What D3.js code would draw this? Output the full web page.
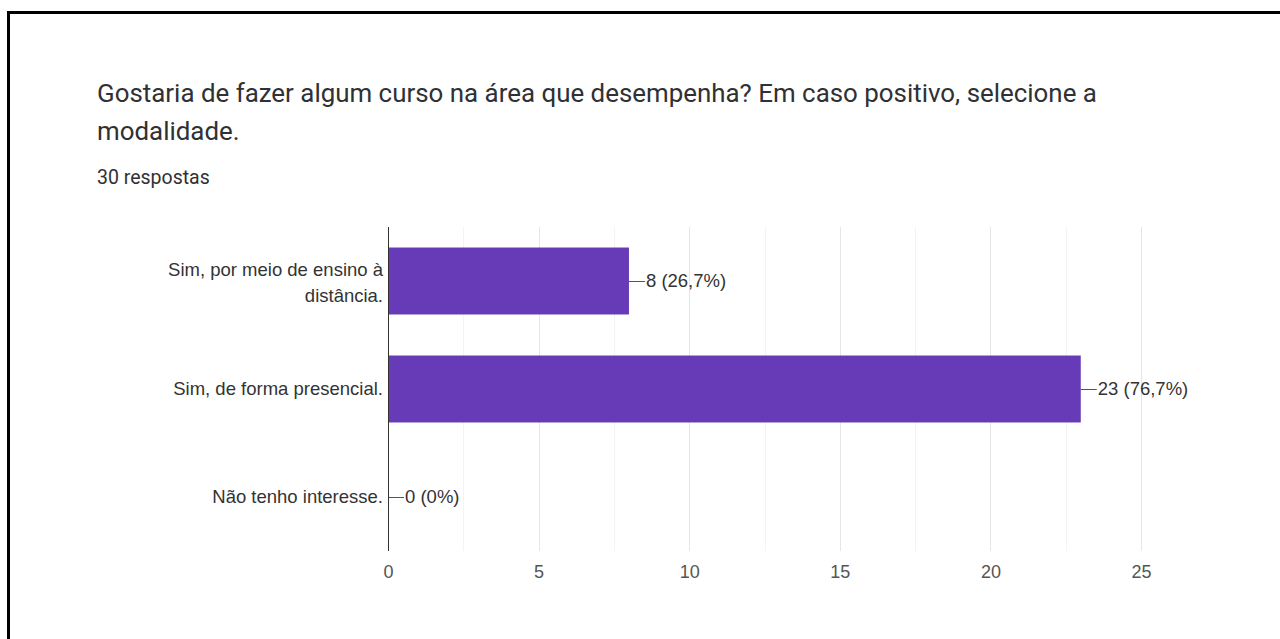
<!DOCTYPE html>
<html>
<head>
<meta charset="utf-8">
<script src="https://cdn.jsdelivr.net/npm/d3@7"></script>
<style>
  body { margin: 0; background: #fff; }
  svg { display: block; }
</style>
</head>
<body>
<svg id="chart"></svg>
<script>
// dados do formulário
var categorias = ["Sim, por meio de ensino à distância.", "Sim, de forma presencial.", "Não tenho interesse."];
var linhasRotulo = [["Sim, por meio de ensino à", "distância."], ["Sim, de forma presencial."], ["Não tenho interesse."]];
var valores = [8, 23, 0];
var rotulosValor = ["8 (26,7%)", "23 (76,7%)", "0 (0%)"];
var ticksX = [0, 5, 10, 15, 20, 25];
var gradeX = [0, 2.5, 5, 7.5, 10, 12.5, 15, 17.5, 20, 22.5, 25];

var svgWidth = 1280, svgHeight = 639;
var margin = { top: 227, right: 139, bottom: 88, left: 388 };
var width = svgWidth - margin.left - margin.right;
var height = svgHeight - margin.top - margin.bottom;
var fonteEixo = "Liberation Sans, Arial";

var svg = d3.select("#chart")
  .attr("width", svgWidth)
  .attr("height", svgHeight);

// moldura
svg.append("path")
  .attr("d", "M8.5,640 V12.5 H1281")
  .attr("fill", "none")
  .attr("stroke", "#000")
  .attr("stroke-width", 3);

// título
svg.append("text")
  .attr("x", 97).attr("y", 102)
  .attr("font-family", "Roboto")
  .attr("font-size", 25.9)
  .attr("fill", "#303134")
  .text("Gostaria de fazer algum curso na área que desempenha? Em caso positivo, selecione a");
svg.append("text")
  .attr("x", 97).attr("y", 140)
  .attr("font-family", "Roboto")
  .attr("font-size", 25.9)
  .attr("fill", "#303134")
  .text("modalidade.");
svg.append("text")
  .attr("x", 97).attr("y", 184)
  .attr("font-family", "Roboto")
  .attr("font-size", 19.5)
  .attr("fill", "#303134")
  .text("30 respostas");

var g = svg.append("g")
  .attr("transform", "translate(" + margin.left + "," + margin.top + ")");

var x = d3.scaleLinear().domain([0, 25]).range([0, width]);
var y = d3.scaleBand().domain(categorias).range([0, height]).paddingInner(0.38).paddingOuter(0.19);

// grade
g.selectAll(".grade")
  .data(gradeX)
  .enter().append("line")
  .attr("class", "grade")
  .attr("x1", function(d) { return Math.round(x(d)) + 0.5; })
  .attr("x2", function(d) { return Math.round(x(d)) + 0.5; })
  .attr("y1", 0)
  .attr("y2", height)
  .attr("stroke", function(d) { return d % 5 === 0 ? "#e6e6e6" : "#f3f3f3"; });

// eixo x
var eixoX = g.append("g")
  .attr("transform", "translate(0," + height + ")")
  .call(d3.axisBottom(x).tickValues(ticksX).tickSize(0).tickPadding(14));
eixoX.select(".domain").remove();
eixoX.selectAll("text")
  .attr("font-family", fonteEixo)
  .attr("font-size", 18)
  .attr("fill", "#555");

// barras
g.selectAll(".barra")
  .data(valores)
  .enter().append("rect")
  .attr("class", "barra")
  .attr("x", 0)
  .attr("y", function(d, i) { return y(categorias[i]); })
  .attr("width", function(d) { return x(d); })
  .attr("height", y.bandwidth())
  .attr("fill", "#673ab7");

// rótulos das categorias
var rot = g.selectAll(".cat")
  .data(categorias)
  .enter().append("text")
  .attr("class", "cat")
  .attr("x", -5)
  .attr("y", function(d) { return y(d) + y.bandwidth() / 2; })
  .attr("text-anchor", "end")
  .attr("font-family", fonteEixo)
  .attr("font-size", 18.5)
  .attr("fill", "#333");
rot.each(function(d, i) {
  var linhas = linhasRotulo[i];
  var t = d3.select(this);
  linhas.forEach(function(l, k) {
    t.append("tspan")
      .attr("x", -5)
      .attr("dy", k === 0 ? (0.35 - (linhas.length - 1) * 0.6) + "em" : "1.4em")
      .text(l);
  });
});

// linhas de ligação e valores
g.selectAll(".liga")
  .data(valores)
  .enter().append("line")
  .attr("class", "liga")
  .attr("x1", function(d) { return x(d); })
  .attr("x2", function(d) { return x(d) + 16; })
  .attr("y1", function(d, i) { return Math.round(y(categorias[i]) + y.bandwidth() / 2) + 0.5; })
  .attr("y2", function(d, i) { return Math.round(y(categorias[i]) + y.bandwidth() / 2) + 0.5; })
  .attr("stroke", "#555");

g.selectAll(".valor")
  .data(valores)
  .enter().append("text")
  .attr("class", "valor")
  .attr("x", function(d) { return x(d) + 17; })
  .attr("y", function(d, i) { return y(categorias[i]) + y.bandwidth() / 2; })
  .attr("dy", "0.35em")
  .attr("font-family", fonteEixo)
  .attr("font-size", 18.5)
  .attr("fill", "#333")
  .text(function(d, i) { return rotulosValor[i]; });

// eixo y
g.append("line")
  .attr("x1", 0.5).attr("x2", 0.5)
  .attr("y1", 0).attr("y2", height)
  .attr("stroke", "#333");
</script>
</body>
</html>
